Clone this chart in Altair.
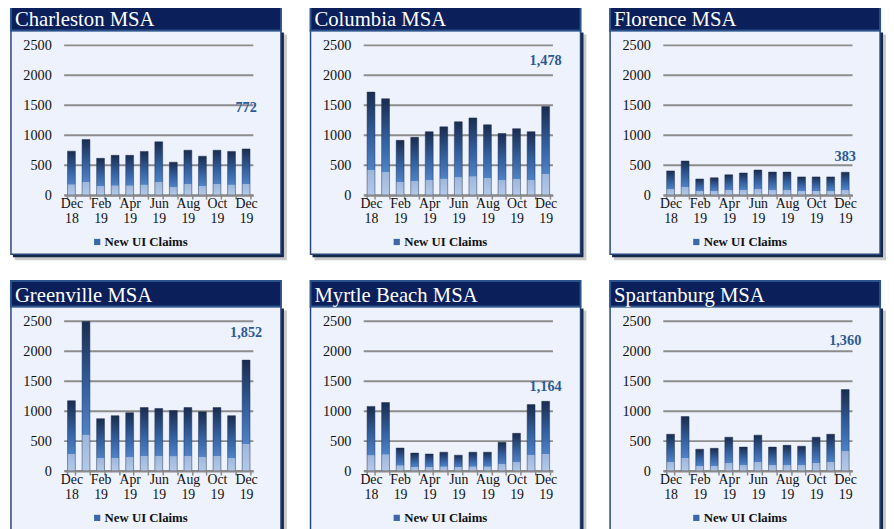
import json
import altair as alt
import pandas as pd

MONTHS = ["Dec 18", "Jan 19", "Feb 19", "Mar 19", "Apr 19", "May 19", "Jun 19",
          "Jul 19", "Aug 19", "Sep 19", "Oct 19", "Nov 19", "Dec 19"]
LABELED = ["Dec 18", "Feb 19", "Apr 19", "Jun 19", "Aug 19", "Oct 19", "Dec 19"]
TITLES = ["Charleston MSA", "Columbia MSA", "Florence MSA",
          "Greenville MSA", "Myrtle Beach MSA", "Spartanburg MSA"]
SERIES = "New UI Claims"
Y_TICKS = [0, 500, 1000, 1500, 2000, 2500]

CHARLESTON = [735, 930, 615, 665, 665, 730, 890, 550, 750, 650, 750, 730, 772]
COLUMBIA = [1720, 1610, 915, 965, 1060, 1140, 1225, 1290, 1175, 1030, 1110, 1060, 1478]
FLORENCE = [405, 570, 270, 290, 340, 370, 420, 385, 385, 305, 305, 305, 383]
GREENVILLE = [1175, 2500, 875, 925, 975, 1060, 1045, 1010, 1060, 990, 1060, 925, 1852]
MYRTLE = [1080, 1145, 385, 300, 285, 315, 265, 315, 315, 480, 630, 1110, 1164]
SPARTANBURG = [615, 910, 365, 380, 565, 400, 600, 400, 430, 415, 565, 615, 1360]
SERIES_VALUES = [CHARLESTON, COLUMBIA, FLORENCE, GREENVILLE, MYRTLE, SPARTANBURG]
# height (in axis units) at which the Dec 19 value label sits
LABEL_Y = [1460, 2240, 640, 2310, 1400, 2170]

SERIF = "Liberation Serif"
W, H = 192, 152

GRAD = alt.Gradient(
    gradient="linear", x1=0, x2=0, y1=1, y2=0,
    stops=[
        alt.GradientStop(offset=0, color="#b5cae8"),
        alt.GradientStop(offset=0.24, color="#9db7dd"),
        alt.GradientStop(offset=0.245, color="#4f82c6"),
        alt.GradientStop(offset=0.55, color="#3462a2"),
        alt.GradientStop(offset=1, color="#1a2c4f"),
    ],
)

LABEL_EXPR = ("indexof(" + json.dumps(LABELED) +
              ", datum.value) >= 0 ? split(datum.value, ' ') : ''")


def panel(title, values, label_y):
    df = pd.DataFrame({"month": MONTHS, "claims": values})
    deco = pd.DataFrame({"title": [title]})
    grid_df = pd.DataFrame({"tick": Y_TICKS})
    last = pd.DataFrame({"month": [MONTHS[-1]], "claims": [values[-1]], "ly": [label_y]})
    leg = pd.DataFrame({"series": [SERIES]})

    xs = alt.Scale(domain=MONTHS, paddingInner=0.46, paddingOuter=0.23)
    ys = alt.Scale(domain=[0, 2500], nice=False)
    xaxis = alt.Axis(title=None, labelAngle=0, labelExpr=LABEL_EXPR, labelFont=SERIF,
                     labelFontSize=14, labelColor="#111111", labelLineHeight=15,
                     domainColor="#8a8a8a", domainWidth=2, tickColor="#8a8a8a",
                     tickWidth=1.5, tickSize=4, tickBand="extent", labelPadding=-2,
                     labelOverlap=False, grid=False, zindex=1, labelBaseline="top")
    yaxis = alt.Axis(title=None, values=Y_TICKS, format="d", grid=False, domain=False,
                     ticks=False, tickSize=0, labelPadding=13, labelFont=SERIF,
                     labelFontSize=14.5, labelColor="#111111", zindex=1)

    shadow = alt.Chart(deco).mark_rect(color="#8a8a8a", opacity=0.45).encode(
        x=alt.value(-50), x2=alt.value(226), y=alt.value(-11), y2=alt.value(218))
    dark = alt.Chart(deco).mark_rect(color="#16284a").encode(
        x=alt.value(-52), x2=alt.value(223), y=alt.value(-13), y2=alt.value(215))
    box = alt.Chart(deco).mark_rect(color="#eef2fd", stroke="#27467a", strokeWidth=1.5).encode(
        x=alt.value(-54), x2=alt.value(220), y=alt.value(-15), y2=alt.value(212))
    bar_title = alt.Chart(deco).mark_rect(color="#0b1f5b", stroke="#2c528c", strokeWidth=2).encode(
        x=alt.value(-54), x2=alt.value(220), y=alt.value(-41), y2=alt.value(-15))
    title_text = alt.Chart(deco).mark_text(
        align="left", baseline="middle", font=SERIF, fontSize=21, color="white").encode(
        x=alt.value(-50), y=alt.value(-25.5), text="title:N")

    grid = alt.Chart(grid_df).mark_rule(color="#8c8c8c", strokeWidth=2).encode(
        y=alt.Y("tick:Q", scale=ys, axis=yaxis), x=alt.value(0), x2=alt.value(W))
    bars = alt.Chart(df).mark_bar(color=GRAD, stroke="#1c2d4f", strokeWidth=0.6,
                                  strokeOpacity=0.8, clip=True).encode(
        x=alt.X("month:N", scale=xs, axis=xaxis, sort=MONTHS),
        y=alt.Y("claims:Q", scale=ys, axis=yaxis))
    label = alt.Chart(last).mark_text(
        font=SERIF, fontSize=14.5, fontWeight="bold", color="#2c5a96", baseline="middle").encode(
        x=alt.X("month:N", scale=xs, axis=xaxis, sort=MONTHS),
        y=alt.Y("ly:Q", scale=ys, axis=yaxis),
        text=alt.Text("claims:Q", format=","))
    legend = alt.Chart(leg).mark_square(opacity=0).encode(
        color=alt.Color("series:N", scale=alt.Scale(domain=[SERIES], range=["#3b68a6"]),
                        legend=alt.Legend(title=None, orient="none", legendX=27, legendY=193,
                                          symbolType="square", symbolSize=40, symbolOpacity=1,
                                          symbolStrokeWidth=0, labelFont=SERIF,
                                          labelFontSize=13, labelFontWeight="bold",
                                          labelColor="#111111", labelOffset=1)))
    return alt.layer(shadow, dark, box, bar_title, title_text, grid, bars, label,
                     legend).properties(width=W, height=H)


panels = [panel(t, v, ly) for t, v, ly in zip(TITLES, SERIES_VALUES, LABEL_Y)]

chart = alt.concat(*panels, columns=3, spacing={"row": 20, "column": 23}).resolve_scale(
    color="independent").resolve_legend(color="independent").properties(
    padding={"left": 2, "top": -8, "right": 0, "bottom": 0},
    background="white").configure_view(stroke=None)

chart.save("out.html", embed_options={"renderer": "svg", "actions": False})
